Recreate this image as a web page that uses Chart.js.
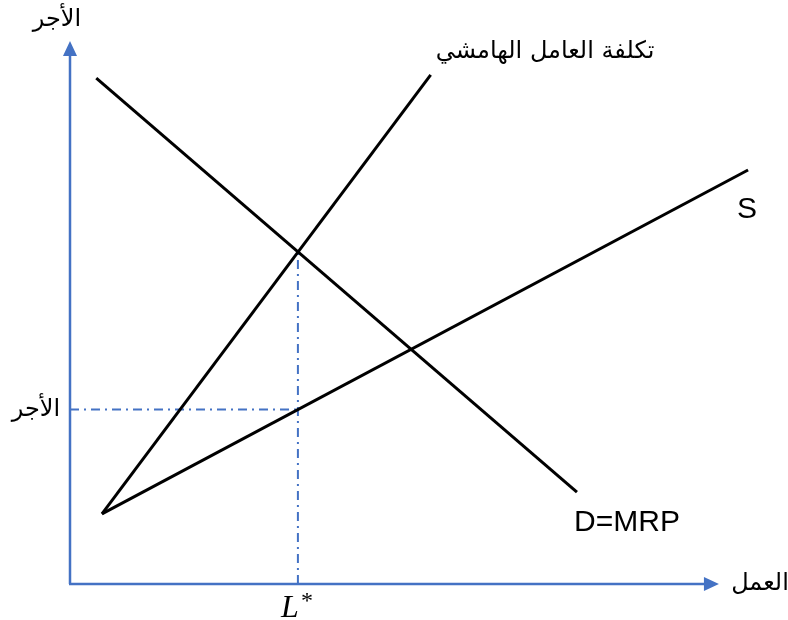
<!DOCTYPE html>
<html>
<head>
<meta charset="utf-8">
<script src="https://cdn.jsdelivr.net/npm/chart.js@4"></script>
<style>
  body { margin: 0; background: #fff; }
  canvas { display: block; }
</style>
</head>
<body>
<canvas id="labourChart" width="788" height="620"></canvas>
<script>
// 需要曲線 D=MRP
var demandX = [3.7, 71.4];
var demandY = [93.0, 16.9];
// 供給曲線 S
var supplyX = [4.5, 95.5];
var supplyY = [12.9, 76.1];
// 限界要素費用
var mfcX = [4.5, 50.8];
var mfcY = [12.9, 93.6];
// 均衡点
var lStar = 32.1;
var wage = 32.1;
var mfcAtL = 61.0;
// 軸の長さ
var xAxisEnd = 91.4;
var yAxisEnd = 99.8;

var blue = '#4472C4';

function pts(xs, ys) {
  return xs.map(function (x, i) { return { x: x, y: ys[i] }; });
}

var axesPlugin = {
  id: 'axesPlugin',
  beforeDatasetsDraw: function (chart) {
    var c = chart.ctx, xs = chart.scales.x, ys = chart.scales.y;
    var x0 = xs.getPixelForValue(0), y0 = ys.getPixelForValue(0);
    var xe = xs.getPixelForValue(xAxisEnd), ye = ys.getPixelForValue(yAxisEnd);
    c.save();
    c.strokeStyle = blue;
    c.fillStyle = blue;
    c.lineWidth = 2.5;
    c.beginPath();
    c.moveTo(x0, y0); c.lineTo(x0, ye + 12);
    c.moveTo(x0 - 1, y0); c.lineTo(xe - 12, y0);
    c.stroke();
    // 矢印
    c.beginPath();
    c.moveTo(x0, ye); c.lineTo(x0 - 7, ye + 15); c.lineTo(x0 + 7, ye + 15); c.closePath();
    c.fill();
    c.beginPath();
    c.moveTo(xe, y0); c.lineTo(xe - 15, y0 - 7); c.lineTo(xe - 15, y0 + 7); c.closePath();
    c.fill();
    c.restore();
  },
  afterDraw: function (chart) {
    var c = chart.ctx, xs = chart.scales.x, ys = chart.scales.y;
    c.save();
    c.fillStyle = '#000';
    c.textAlign = 'center';
    c.textBaseline = 'middle';
    c.font = '24px "DejaVu Sans"';
    c.direction = 'rtl';
    c.fillText('الأجر', 57, 20);
    c.fillText('الأجر', 36, ys.getPixelForValue(wage));
    c.fillText('العمل', 760, ys.getPixelForValue(0));
    c.fillText('تكلفة العامل الهامشي', 545, 52);
    c.direction = 'ltr';
    c.font = '30px "Liberation Sans"';
    c.fillText('S', 747, 210);
    c.fillText('D=MRP', 627, 523);
    var lx = xs.getPixelForValue(lStar);
    c.textBaseline = 'alphabetic';
    c.font = 'italic 32px "Liberation Serif"';
    c.fillText('L', lx - 8, 617);
    c.font = '24px "Liberation Serif"';
    c.fillText('*', lx + 9, 608);
    c.restore();
  }
};

var ctx = document.getElementById('labourChart');
var labourChart = new Chart(ctx, {
  type: 'scatter',
  data: {
    datasets: [
      {
        data: pts(demandX, demandY),
        showLine: true,
        borderColor: '#000',
        borderWidth: 3,
        pointRadius: 0
      },
      {
        data: pts(supplyX, supplyY),
        showLine: true,
        borderColor: '#000',
        borderWidth: 3,
        pointRadius: 0
      },
      {
        data: pts(mfcX, mfcY),
        showLine: true,
        borderColor: '#000',
        borderWidth: 3,
        pointRadius: 0
      },
      {
        // 賃金の補助線
        data: [{ x: 0, y: wage }, { x: lStar, y: wage }],
        showLine: true,
        borderColor: blue,
        borderWidth: 2,
        borderDash: [9, 5, 2, 5],
        pointRadius: 0
      },
      {
        // L* の補助線
        data: [{ x: lStar, y: 0 }, { x: lStar, y: mfcAtL }],
        showLine: true,
        borderColor: blue,
        borderWidth: 2,
        borderDash: [9, 5, 2, 5],
        pointRadius: 0
      }
    ]
  },
  options: {
    responsive: false,
    animation: false,
    devicePixelRatio: 1,
    layout: { padding: { left: 70, right: 8, top: 40, bottom: 36 } },
    plugins: { legend: { display: false }, tooltip: { enabled: false } },
    scales: {
      x: { type: 'linear', min: 0, max: 100, display: false },
      y: { type: 'linear', min: 0, max: 100, display: false }
    }
  },
  plugins: [axesPlugin]
});
</script>
</body>
</html>
